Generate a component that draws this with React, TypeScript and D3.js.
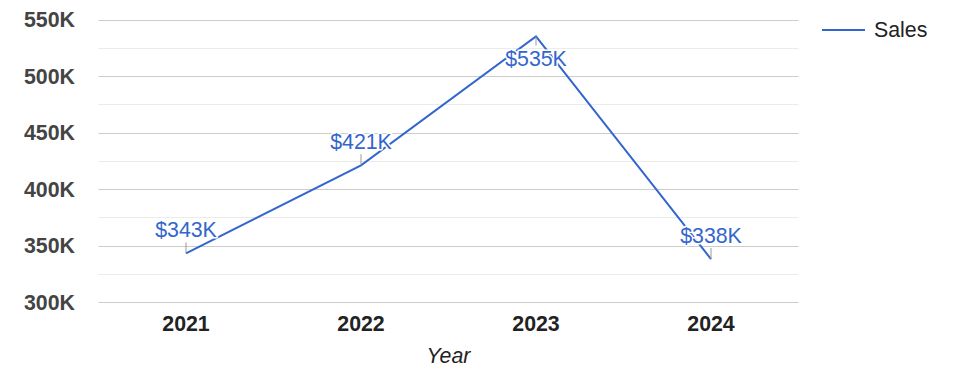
import React from "react";
import * as d3 from "d3";

const years = ["2021", "2022", "2023", "2024"];
const sales = [343000, 421000, 535000, 338000];
const salesLabels = ["$343K", "$421K", "$535K", "$338K"];
const yTicks = [300000, 350000, 400000, 450000, 500000, 550000];
const yMinorTicks = [325000, 375000, 425000, 475000, 525000];
const seriesName = "Sales";
const xTitle = "Year";

const W = 975;
const H = 378;
const margin = { left: 98.5, right: 176.5, top: 19.5, bottom: 76 };
const FONT = "'Liberation Sans', Arial, sans-serif";
const BLUE = "#3366cc";
const LABEL_SIZE = 21.33;

export default function App() {
  const x = d3
    .scaleBand<string>()
    .domain(years)
    .range([margin.left, W - margin.right]);
  const y = d3
    .scaleLinear()
    .domain([300000, 550000])
    .range([H - margin.bottom, margin.top]);
  const fmt = (v: number) => `${v / 1000}K`;
  const cx = (d: string) => (x(d) as number) + x.bandwidth() / 2;
  const line = d3
    .line<number>()
    .x((_, i) => cx(years[i]))
    .y((v) => y(v));

  return (
    <svg
      width={W}
      height={H}
      style={{ position: "absolute", left: 0, top: 0, background: "#fff" }}
      fontFamily={FONT}
    >
      {yMinorTicks.map((t) => (
        <line
          key={"m" + t}
          x1={margin.left}
          x2={W - margin.right}
          y1={Math.round(y(t)) + 0.5}
          y2={Math.round(y(t)) + 0.5}
          stroke="#ebebeb"
          strokeWidth={1}
        />
      ))}
      {yTicks.map((t) => (
        <g key={t}>
          <line
            x1={margin.left}
            x2={W - margin.right}
            y1={Math.round(y(t)) + 0.5}
            y2={Math.round(y(t)) + 0.5}
            stroke="#cccccc"
            strokeWidth={1}
          />
          <text
            x={75}
            y={y(t)}
            dy="0.36em"
            textAnchor="end"
            fontSize={21.33}
            fontWeight="bold"
            fill="#444444"
          >
            {fmt(t)}
          </text>
        </g>
      ))}
      {years.map((yr) => (
        <text
          key={yr}
          x={cx(yr)}
          y={331}
          textAnchor="middle"
          fontSize={21.33}
          fontWeight="bold"
          fill="#222222"
        >
          {yr}
        </text>
      ))}
      <text
        x={(margin.left + W - margin.right) / 2}
        y={363}
        textAnchor="middle"
        fontSize={21.33}
        fontStyle="italic"
        fill="#222222"
      >
        {xTitle}
      </text>
      <path d={line(sales) || ""} fill="none" stroke={BLUE} strokeWidth={2} />
      {sales.map((v, i) => {
        const py = y(v);
        const above = py - 16 - LABEL_SIZE * 0.72 >= margin.top;
        const leadEnd = above ? py - 11 : py + 9;
        const ty = above ? py - 16 : py + 30;
        return (
          <g key={i}>
            <line
              x1={cx(years[i])}
              x2={cx(years[i])}
              y1={py}
              y2={leadEnd}
              stroke="#999999"
              strokeWidth={1}
            />
            <text
              x={cx(years[i])}
              y={ty}
              textAnchor="middle"
              fontSize={LABEL_SIZE}
              fill={BLUE}
              stroke="#ffffff"
              strokeWidth={3}
              strokeLinejoin="round"
              style={{ paintOrder: "stroke" }}
            >
              {salesLabels[i]}
            </text>
          </g>
        );
      })}
      <line x1={822} x2={865} y1={30} y2={30} stroke={BLUE} strokeWidth={2} />
      <text x={874} y={37} fontSize={21.33} fill="#222222">
        {seriesName}
      </text>
    </svg>
  );
}
